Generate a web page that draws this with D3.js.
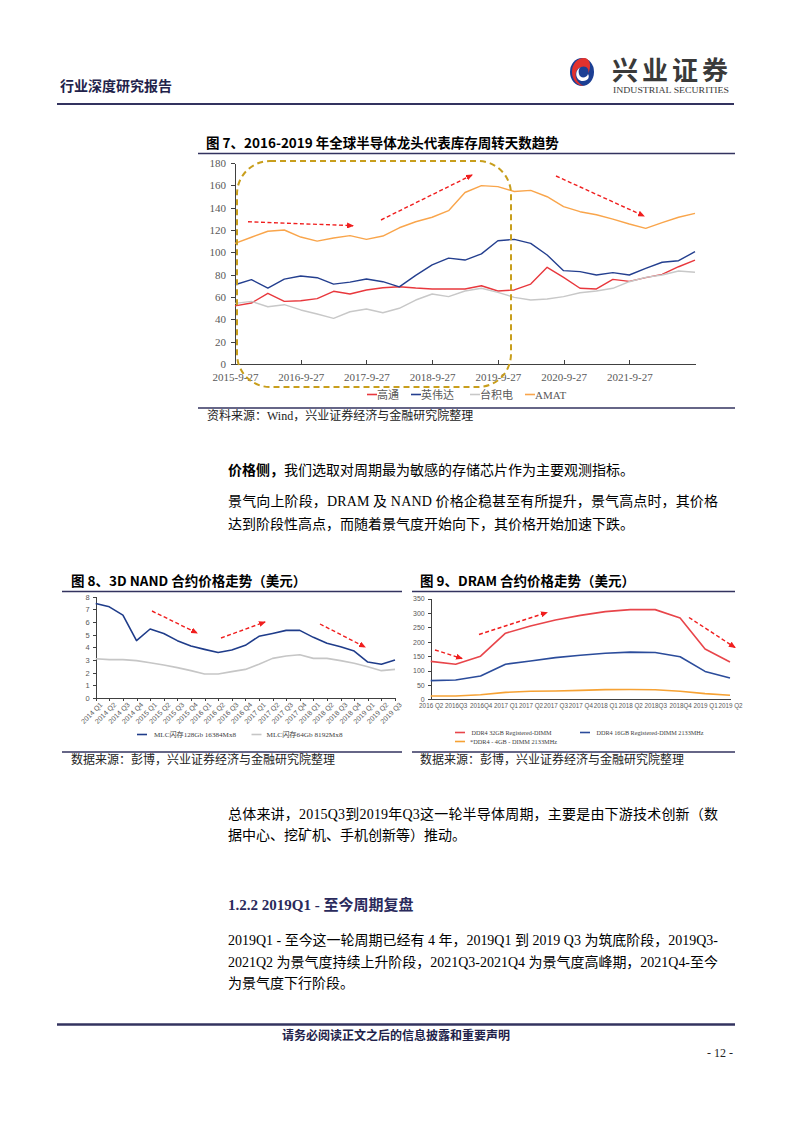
<!DOCTYPE html>
<html>
    <head>
        <meta charset="utf-8">
        <title>行业深度研究报告 - 12</title>
        <style>
            body { margin: 0; background: #fff; }
            svg { display: block; font-family: "Liberation Serif", "Noto Sans CJK SC", serif; }
            .cjk { font-family: "Noto Sans CJK SC", sans-serif; }
            .axis path, .axis line { stroke: #404040; shape-rendering: crispEdges; }
            .axis text { fill: #595959; }
            .series { fill: none; stroke-linejoin: round; }
            .trend { stroke: #f01e1e; stroke-width: 1.4; stroke-dasharray: 4,2.5; }
            .rule { stroke: #33335f; }
        </style>
    </head>
    <body>
        <svg id="page" width="794" height="1123"></svg>

        <script src="https://cdn.jsdelivr.net/npm/d3@7"></script>
        <script>
            // ---- chart 7: inventory days, quarterly from 2015-9-27
            let dates7 = ['2015-9-27', '2016-9-27', '2017-9-27', '2018-9-27', '2019-9-27', '2020-9-27', '2021-9-27'];
            let names7 = ['高通', '英伟达', '台积电', 'AMAT'];
            let qualcomm = [52, 54.6, 63.3, 56.1, 56.7, 58.5, 65.1, 62.7, 66.3, 68.3, 69.2, 68, 67.2, 67.2, 67.2,
                            70.1, 65.4, 66.3, 71.6, 86.6, 77.6, 67.8, 67.2, 75.8, 74, 77.3, 80.3, 87.1, 93.1];
            let nvidia = [71, 75.5, 68, 76, 78.8, 77.3, 71.5, 73.3, 76.1, 73.7, 69.1, 79.4, 88.8, 94.8, 93.1,
                          98.6, 110.4, 111.6, 108, 97.6, 83.6, 82.7, 79.7, 81.8, 79.7, 85.7, 91.1, 92.5, 100.6];
            let tsmc = [54.3, 56.1, 51.3, 53.1, 48.4, 44.8, 40.9, 46.8, 49.3, 45.9, 49.9, 57.3, 62.7, 60.3, 65.4,
                        67.8, 64.2, 59.7, 57.3, 58.2, 60.3, 63.8, 65.4, 67.8, 73.7, 77.6, 79.7, 83.3, 82.1];
            let amat = [108, 113.5, 118.9, 120, 113.7, 110, 112.8, 115, 111.6, 114.6, 122, 127.4, 131.4, 137.3, 153.6,
                        159.7, 158.8, 154.5, 155.5, 149.8, 140.9, 136.4, 133.7, 129.8, 125.4, 121.5, 126.6, 131.4, 134.9];

            // ---- chart 8: 3D NAND contract price
            let quarters8 = ['2014 Q1', '2014 Q2', '2014 Q3', '2014 Q4', '2015 Q1', '2015 Q2', '2015 Q3', '2015 Q4',
                             '2016 Q1', '2016 Q2', '2016 Q3', '2016 Q4', '2017 Q1', '2017 Q2', '2017 Q3', '2017 Q4',
                             '2018 Q1', '2018 Q2', '2018 Q3', '2018 Q4', '2019 Q1', '2019 Q2', '2019 Q3'];
            let names8 = ['MLC闪存128Gb 16384Mx8', 'MLC闪存64Gb 8192Mx8'];
            let mlc128 = [7.47, 7.2, 6.55, 4.53, 5.45, 5.1, 4.53, 4.1, 3.84, 3.6, 3.79, 4.16,
                          4.87, 5.1, 5.34, 5.34, 4.79, 4.32, 4.05, 3.71, 2.84, 2.66, 3.0];
            let mlc64 = [3.1, 3.03, 3.03, 2.95, 2.79, 2.6, 2.4, 2.16, 1.9, 1.9, 2.08, 2.26,
                         2.66, 3.13, 3.32, 3.42, 3.13, 3.13, 2.95, 2.74, 2.47, 2.16, 2.26];

            // ---- chart 9: DRAM contract price
            let quarters9 = ['2016 Q2', '2016Q3', '2016Q4', '2017 Q1', '2017 Q2', '2017 Q3', '2017 Q4',
                             '2018 Q1', '2018 Q2', '2018Q3', '2018Q4', '2019 Q1', '2019 Q2'];
            let names9 = ['DDR4 32GB Registered-DIMM', 'DDR4 16GB Registered-DIMM 2133MHz', '*DDR4 - 4GB - DIMM 2133MHz'];
            let ddr32 = [132, 122, 150, 230, 255, 276, 292, 305, 312, 312, 283, 175, 130];
            let ddr16 = [65, 67, 81, 122, 133, 145, 153, 160, 164, 163, 148, 97, 74];
            let ddr4 = [11.6, 11.6, 16, 24, 27.8, 29, 31, 33.5, 34, 33, 27.8, 19.7, 14];

            let svg = d3.select('#page');

            svg.append('defs').append('marker')
                .attr('id', 'arrow')
                .attr('markerUnits', 'userSpaceOnUse')
                .attr('markerWidth', 7).attr('markerHeight', 6)
                .attr('refX', 6).attr('refY', 3)
                .attr('orient', 'auto')
              .append('path')
                .attr('d', 'M0,0 L7,3 L0,6 Z')
                .attr('fill', '#f01e1e');

            // ---------------- page header ----------------
            svg.append('text').attr('class', 'cjk')
                .attr('x', 60).attr('y', 91)
                .attr('font-size', 14).attr('font-weight', 700).attr('fill', '#22224a')
                .text('行业深度研究报告');

            // logo mark
            let logo = svg.append('g').attr('transform', 'translate(582,72)');
            logo.append('ellipse').attr('rx', 12).attr('ry', 14).attr('fill', '#1c3f94');
            logo.append('path')
                .attr('d', 'M2,-14 A12,14 0 0 0 2,14 C-8,10 -9,-2 -1,-5 C4,-7 8,-3 6,2 C10,-6 8,-14 2,-14 Z')
                .attr('fill', '#e2322e');
            logo.append('path')
                .attr('d', 'M-1,-5 C-8,-2 -7,9 1,9 C6,9 8,5 6,2 C5,6 -2,7 -3,2 C-4,-1 -3,-4 -1,-5 Z')
                .attr('fill', '#fff');

            svg.append('text').attr('class', 'cjk')
                .attr('x', 612).attr('y', 80)
                .attr('font-size', 26).attr('font-weight', 700).attr('fill', '#3a3a3a')
                .attr('textLength', 116).attr('lengthAdjust', 'spacing')
                .text('兴业证券');
            svg.append('text')
                .attr('x', 613).attr('y', 93)
                .attr('font-size', 8.5).attr('fill', '#3a3a3a')
                .attr('textLength', 116).attr('lengthAdjust', 'spacingAndGlyphs')
                .text('INDUSTRIAL SECURITIES');

            svg.append('line').attr('class', 'rule')
                .attr('x1', 57).attr('x2', 734).attr('y1', 104).attr('y2', 104)
                .attr('stroke-width', 2);

            // ---------------- helpers ----------------
            function title(x, y, x1, x2, label) {
                svg.append('text').attr('class', 'cjk')
                    .attr('x', x).attr('y', y)
                    .attr('font-size', 13.5).attr('font-weight', 700).attr('fill', '#000')
                    .text(label);
                svg.append('line').attr('class', 'rule')
                    .attr('x1', x1).attr('x2', x2).attr('y1', y + 5.5).attr('y2', y + 5.5)
                    .attr('stroke-width', 1.5);
            }

            function source(x, y, x1, x2, label) {
                svg.append('line').attr('class', 'rule')
                    .attr('x1', x1).attr('x2', x2).attr('y1', y - 12).attr('y2', y - 12)
                    .attr('stroke-width', 1.5);
                svg.append('text')
                    .attr('x', x).attr('y', y)
                    .attr('font-size', 12).attr('fill', '#222')
                    .text(label);
            }

            function trend(p) {
                svg.append('line').attr('class', 'trend')
                    .attr('x1', p[0]).attr('y1', p[1]).attr('x2', p[2]).attr('y2', p[3])
                    .attr('marker-end', 'url(#arrow)');
            }

            function series(g, values, x, y, color, width) {
                let line = d3.line()
                    .x((d, i) => x(i))
                    .y(d => y(d));
                g.append('path').attr('class', 'series')
                    .datum(values)
                    .attr('d', line)
                    .attr('stroke', color)
                    .attr('stroke-width', width);
            }

            // small legend: swatch line then label squeezed to the width
            function legendItem(g, lx, ly, tx, width, color, label, size) {
                g.append('line')
                    .attr('x1', lx).attr('x2', lx + 10)
                    .attr('y1', ly).attr('y2', ly)
                    .attr('stroke', color).attr('stroke-width', 1.6);
                g.append('text')
                    .attr('x', tx).attr('y', ly + 2.4)
                    .attr('font-size', size).attr('fill', '#404040')
                    .attr('textLength', width).attr('lengthAdjust', 'spacingAndGlyphs')
                    .text(label);
            }

            // ---------------- chart 7 ----------------
            title(206, 148, 198, 735, '图 7、2016-2019 年全球半导体龙头代表库存周转天数趋势');

            let x7 = d3.scaleLinear().domain([0, qualcomm.length - 1]).range([235, 695]);
            let y7 = d3.scaleLinear().domain([0, 180]).range([364, 163]);
            let g7 = svg.append('g');

            g7.append('g').attr('class', 'axis')
                .attr('transform', 'translate(0,' + y7(0) + ')')
                .call(d3.axisBottom(x7)
                    .tickValues(dates7.map((d, i) => i * 4))
                    .tickFormat((d, i) => dates7[i])
                    .tickSizeInner(-4).tickSizeOuter(0).tickPadding(9))
                .call(a => a.selectAll('text').attr('font-size', 11).attr('font-family', 'Liberation Serif'));

            g7.append('g').attr('class', 'axis')
                .attr('transform', 'translate(' + x7(0) + ',0)')
                .call(d3.axisLeft(y7).tickValues(d3.range(0, 181, 20)).tickSizeInner(4).tickSizeOuter(0).tickPadding(5))
                .call(a => a.selectAll('text').attr('font-size', 11).attr('font-family', 'Liberation Serif'))
                .call(a => a.select('.domain').attr('stroke', '#222').attr('stroke-width', 1.5));

            let colors7 = ['#e8383d', '#243f8f', '#c8c8c8', '#f9a54b'];
            [qualcomm, nvidia, tsmc, amat].forEach((s, k) => series(g7, s, x7, y7, colors7[k], 1.4));

            // highlighted cycle window
            g7.append('rect')
                .attr('x', 237).attr('y', 161).attr('width', 274).attr('height', 226)
                .attr('rx', 33).attr('ry', 33)
                .attr('fill', 'none').attr('stroke', '#c89e1c')
                .attr('stroke-width', 2).attr('stroke-dasharray', '6,4');

            [[248, 221.7, 353, 225.7], [381, 220, 472, 175], [556, 176, 644, 216]].forEach(trend);

            // legend 7
            let legendX7 = [367, 411, 470, 525];
            names7.forEach((n, k) => {
                g7.append('line')
                    .attr('x1', legendX7[k]).attr('x2', legendX7[k] + 10)
                    .attr('y1', 394.5).attr('y2', 394.5)
                    .attr('stroke', colors7[k]).attr('stroke-width', 1.6);
                g7.append('text')
                    .attr('x', legendX7[k] + 10).attr('y', 398.5)
                    .attr('font-size', 11).attr('fill', '#595959')
                    .text(n);
            });

            source(207, 420, 198, 735, '资料来源：Wind，兴业证券经济与金融研究院整理');

            // ---------------- body text 1 ----------------
            let body = svg.append('g').attr('font-size', 14).attr('fill', '#000');
            let t1 = body.append('text').attr('x', 228).attr('y', 475);
            t1.append('tspan').attr('font-weight', 700).attr('class', 'cjk').text('价格侧，');
            t1.append('tspan').text('我们选取对周期最为敏感的存储芯片作为主要观测指标。');

            let para1 = ['景气向上阶段，DRAM 及 NAND 价格企稳甚至有所提升，景气高点时，其价格',
                         '达到阶段性高点，而随着景气度开始向下，其价格开始加速下跌。'];
            body.append('text').attr('x', 228).attr('y', 505.5)
                .attr('textLength', 490).attr('lengthAdjust', 'spacing').text(para1[0]);
            body.append('text').attr('x', 228).attr('y', 529).text(para1[1]);

            // ---------------- chart 8 ----------------
            title(71, 586, 62, 402, '图 8、3D NAND 合约价格走势（美元）');

            let x8 = d3.scalePoint().domain(d3.range(quarters8.length)).range([95.7, 395]);
            let y8 = d3.scaleLinear().domain([0, 8]).range([698, 596.7]);
            let g8 = svg.append('g');

            g8.append('g').attr('class', 'axis')
                .attr('transform', 'translate(0,' + y8(0) + ')')
                .call(d3.axisBottom(x8).tickSizeInner(3).tickSizeOuter(0).tickFormat(i => quarters8[i]))
                .call(a => a.selectAll('text')
                    .attr('font-size', 7)
                    .attr('text-anchor', 'end')
                    .attr('dy', '0.35em')
                    .attr('transform', 'translate(3,2) rotate(-45)')
                    .attr('x', -1).attr('y', 4));

            g8.append('g').attr('class', 'axis')
                .attr('transform', 'translate(' + x8(0) + ',0)')
                .call(d3.axisLeft(y8).ticks(8).tickSizeInner(3).tickSizeOuter(0).tickPadding(3))
                .call(a => a.selectAll('text').attr('font-size', 7.5));

            let colors8 = ['#1f3c8a', '#c6c6c6'];
            [mlc128, mlc64].forEach((s, k) => series(g8, s, i => x8(i), y8, colors8[k], 1.6));

            [[152, 611, 197, 633], [221, 638, 265, 622], [320, 624, 365, 647]].forEach(trend);

            legendItem(g8, 137, 734.5, 154, 82, colors8[0], names8[0], 7);
            legendItem(g8, 251.5, 734.5, 266.5, 76, colors8[1], names8[1], 7);

            source(71, 764, 62, 402, '数据来源：彭博，兴业证券经济与金融研究院整理');

            // ---------------- chart 9 ----------------
            title(420, 586, 412, 735, '图 9、DRAM 合约价格走势（美元）');

            let x9 = d3.scalePoint().domain(d3.range(quarters9.length)).range([430.7, 730]);
            let y9 = d3.scaleLinear().domain([0, 350]).range([699.3, 598.7]);
            let g9 = svg.append('g');

            g9.append('g').attr('class', 'axis')
                .attr('transform', 'translate(0,' + y9(0) + ')')
                .call(d3.axisBottom(x9).tickSizeInner(0).tickSizeOuter(0).tickPadding(4).tickFormat(i => quarters9[i]))
                .call(a => a.selectAll('text').attr('font-size', 6.3).attr('fill', '#404040'));

            g9.append('g').attr('class', 'axis')
                .attr('transform', 'translate(' + x9(0) + ',0)')
                .call(d3.axisLeft(y9).tickValues(d3.range(0, 351, 50)).tickSizeInner(3).tickSizeOuter(0).tickPadding(3))
                .call(a => a.selectAll('text').attr('font-size', 7));

            let colors9 = ['#e8454a', '#2b4c9b', '#f6a234'];
            [ddr32, ddr16, ddr4].forEach((s, k) => series(g9, s, i => x9(i), y9, colors9[k], 1.6));

            [[435, 650, 462, 658.5], [479, 634.5, 547, 612.5], [689, 617.5, 735, 647.5]].forEach(trend);

            legendItem(g9, 455, 732.5, 471.5, 80, colors9[0], names9[0], 6.5);
            legendItem(g9, 580, 732.5, 596.5, 107, colors9[1], names9[1], 6.5);
            legendItem(g9, 455, 741.5, 470, 87, colors9[2], names9[2], 6.5);

            source(420, 764, 412, 735, '数据来源：彭博，兴业证券经济与金融研究院整理');

            // ---------------- body text 2 ----------------
            let para2 = ['总体来讲，2015Q3到2019年Q3这一轮半导体周期，主要是由下游技术创新（数',
                         '据中心、挖矿机、手机创新等）推动。'];
            body.append('text').attr('x', 228).attr('y', 818.5)
                .attr('textLength', 490).attr('lengthAdjust', 'spacing').text(para2[0]);
            body.append('text').attr('x', 228).attr('y', 839.5).text(para2[1]);

            svg.append('text')
                .attr('x', 228).attr('y', 909.5)
                .attr('font-size', 15).attr('font-weight', 700).attr('fill', '#2a2a5c')
                .text('1.2.2 2019Q1 - 至今周期复盘');

            let para3 = ['2019Q1 - 至今这一轮周期已经有 4 年，2019Q1 到 2019 Q3 为筑底阶段，2019Q3-',
                         '2021Q2 为景气度持续上升阶段，2021Q3-2021Q4 为景气度高峰期，2021Q4-至今',
                         '为景气度下行阶段。'];
            body.append('text').attr('x', 228).attr('y', 945)
                .attr('textLength', 490).attr('lengthAdjust', 'spacing').text(para3[0]);
            body.append('text').attr('x', 228).attr('y', 966.5)
                .attr('textLength', 490).attr('lengthAdjust', 'spacing').text(para3[1]);
            body.append('text').attr('x', 228).attr('y', 988).text(para3[2]);

            // ---------------- footer ----------------
            svg.append('line').attr('class', 'rule')
                .attr('x1', 57).attr('x2', 735).attr('y1', 1024.5).attr('y2', 1024.5)
                .attr('stroke-width', 2.5);
            svg.append('text').attr('class', 'cjk')
                .attr('x', 396).attr('y', 1039.5).attr('text-anchor', 'middle')
                .attr('font-size', 12).attr('font-weight', 700).attr('fill', '#22224a')
                .text('请务必阅读正文之后的信息披露和重要声明');
            svg.append('text')
                .attr('x', 733).attr('y', 1057).attr('text-anchor', 'end')
                .attr('font-size', 12).attr('fill', '#222')
                .text('- 12 -');
        </script>
    </body>
</html>
